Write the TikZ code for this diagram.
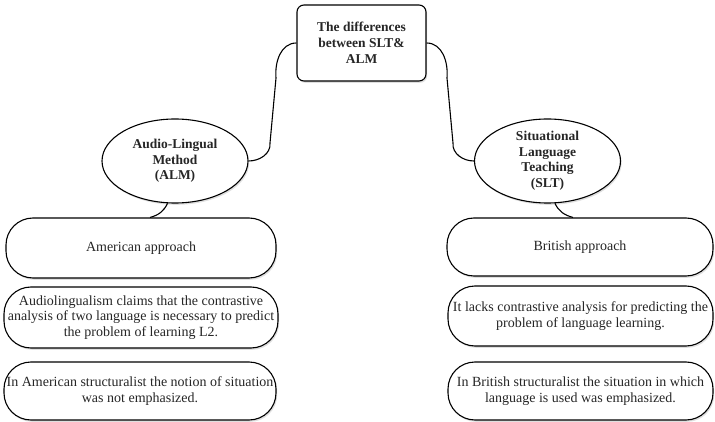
\documentclass[tikz,border=0pt]{standalone}
\usepackage{fontspec}
\setmainfont{Liberation Serif}
\usetikzlibrary{shapes.geometric,shadows,calc}
\begin{document}
\begin{tikzpicture}[x=1pt,y=-1pt,
  every node/.style={text=black!85, font=\fontsize{14}{15.5}\selectfont, align=center, inner sep=0pt},
  shade/.style={drop shadow={opacity=0.25, shadow xshift=1.2pt, shadow yshift=-1.8pt}},
  topbox/.style={draw, line width=1.1pt, rectangle, rounded corners=7pt, fill=white, shade,
     minimum width=129pt, minimum height=76pt, font=\bfseries\fontsize{13.5}{16}\selectfont},
  oval/.style={draw, line width=1.1pt, ellipse, fill=white, shade,
     minimum width=146pt, minimum height=84pt, font=\bfseries\fontsize{13.5}{15.5}\selectfont},
  pill/.style={draw, line width=1.1pt, rectangle, rounded corners=27pt, fill=white, shade},
  link/.style={draw, line width=1.1pt}
]
\useasboundingbox (0,0) rectangle (715,422);

\node[topbox] (top) at (361.5,43) {The differences\\between SLT\&\\ALM};

\node[oval] (alm) at (175,161) {Audio-Lingual\\Method\\(ALM)};
\node[oval] (slt) at (547.5,161) {Situational\\Language\\Teaching\\(SLT)};

\node[pill, minimum width=270pt, minimum height=60pt] (amer) at (141,248) {American approach};
\node[pill, minimum width=274pt, minimum height=61pt] (alm2) at (141,317.5)
  {Audiolingualism claims that the contrastive\\analysis of two language is necessary to predict\\the problem of learning L2.};
\node[pill, minimum width=272pt, minimum height=58pt] (alm3) at (140,391)
  {In American structuralist the notion of situation\\was not emphasized.};

\node[pill, minimum width=266pt, minimum height=58pt] (brit) at (580,247) {British approach};
\node[pill, minimum width=265pt, minimum height=60pt] (slt2) at (580.5,316)
  {It lacks contrastive analysis for predicting the\\problem of language learning.};
\node[pill, minimum width=265pt, minimum height=58pt] (slt3) at (580.5,391)
  {In British structuralist the situation in which\\language is used was emphasized.};

\coordinate (lbend1) at (276,78);
\coordinate (lbend2) at (270,143);
\coordinate (rbend1) at (447,78);
\coordinate (rbend2) at (453,143);

\path[link] (top.west) to[out=180,in=95] (lbend1) -- (lbend2) to[out=-85,in=0] (alm.east);
\path[link] (top.east) to[out=0,in=85] (rbend1) -- (rbend2) to[out=-95,in=180] (slt.west);

\path[link] (alm.-100) to[out=-115,in=15] ($(amer.north)+(9,0)$);
\path[link] (slt.-80) to[out=-65,in=165] ($(brit.north)+(-7,0)$);
\end{tikzpicture}
\end{document}
